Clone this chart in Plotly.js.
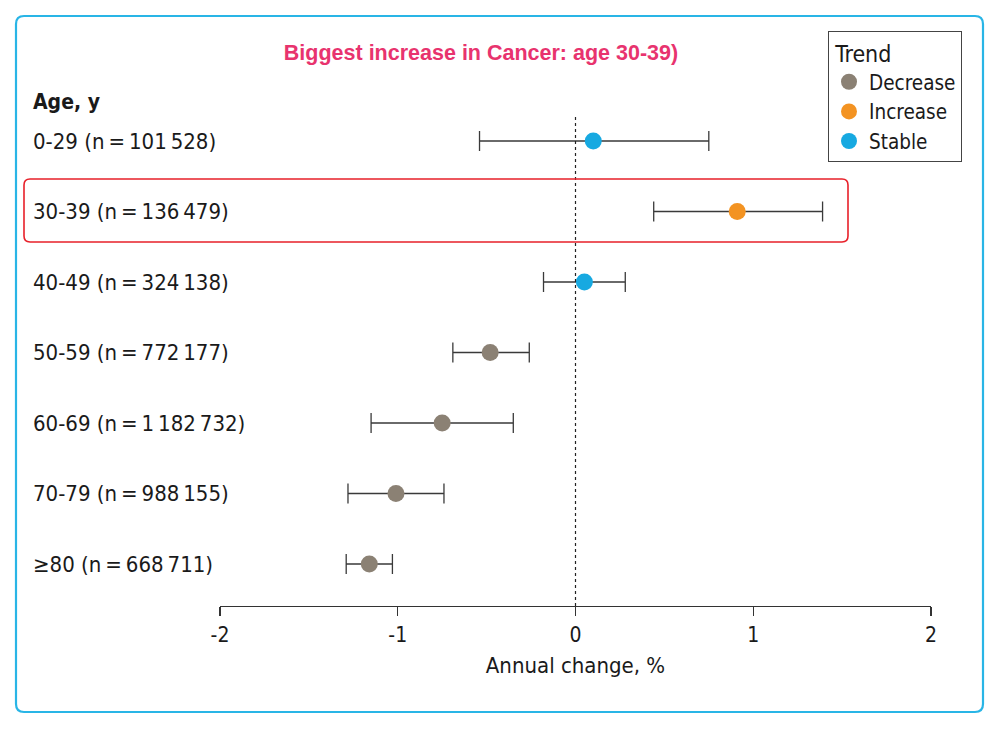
<!DOCTYPE html>
<html>
<head>
<meta charset="utf-8">
<script src="https://cdn.plot.ly/plotly-3.0.1.min.js"></script>
<style>html,body{margin:0;padding:0;background:#fff;}#chart{width:999px;height:729px;}</style>
</head>
<body>
<div id="chart"></div>
<script>
// ---- data ----
const ageGroups = ["0-29", "30-39", "40-49", "50-59", "60-69", "70-79", "\u226580"];
const sampleSizes = ["101\u2009528", "136\u2009479", "324\u2009138", "772\u2009177", "1\u2009182\u2009732", "988\u2009155", "668\u2009711"];
const estimate = [0.10, 0.91, 0.05, -0.48, -0.75, -1.01, -1.16];
const ciLow   = [-0.54, 0.44, -0.18, -0.69, -1.15, -1.28, -1.29];
const ciHigh  = [0.75, 1.39, 0.28, -0.26, -0.35, -0.74, -1.03];
const trend   = ["Stable", "Increase", "Stable", "Decrease", "Decrease", "Decrease", "Decrease"];
const trendOrder = ["Decrease", "Increase", "Stable"];
const trendColors = {Decrease: "#8b8174", Increase: "#f39322", Stable: "#17a9e1"};
const xTicks = [-2, -1, 0, 1, 2];
const xTickText = ["-2", "-1", "0", "1", "2"];
const highlightGroup = "30-39";

const FONT = "'Liberation Sans Narrow', 'DejaVu Sans Condensed', 'Open Sans', sans-serif";

// pixel -> paper helpers (layout only)
const L = 220, R = 931, T = 100, B = 606;
const px = v => (v - L) / (R - L);
const py = v => (B - v) / (B - T);

function roundRect(x0, y0, x1, y1, r) {
  const a = px(x0), b = px(x1), c = py(y0), d = py(y1);
  const rx = r / (R - L), ry = r / (B - T);
  return `M${a + rx},${c} L${b - rx},${c} Q${b},${c} ${b},${c - ry} L${b},${d + ry} Q${b},${d} ${b - rx},${d} L${a + rx},${d} Q${a},${d} ${a},${d + ry} L${a},${c - ry} Q${a},${c} ${a + rx},${c} Z`;
}

const idx = ageGroups.map((_, i) => i);
const traces = trendOrder.map(t => {
  const ii = idx.filter(i => trend[i] === t);
  return {
    type: "scatter", mode: "markers", name: t,
    x: ii.map(i => estimate[i]),
    y: ii.map(i => i),
    marker: {color: trendColors[t], size: 17},
    error_x: {
      type: "data", symmetric: false,
      array: ii.map(i => ciHigh[i] - estimate[i]),
      arrayminus: ii.map(i => estimate[i] - ciLow[i]),
      color: "#3a3a3a", thickness: 1.3, width: 10
    },
    hoverinfo: "skip"
  };
});

const annotations = ageGroups.map((g, i) => ({
  xref: "paper", yref: "y", x: px(31), y: i, xanchor: "left", yanchor: "middle",
  text: `${g} (n\u2009=\u2009${sampleSizes[i]})`, showarrow: false,
  font: {family: FONT, size: 22, color: "#1a1a1a"}
}));
annotations.push({
  xref: "paper", yref: "paper", x: px(31), y: py(102), xanchor: "left", yanchor: "middle",
  text: "<b>Age, y</b>", showarrow: false, font: {family: FONT, size: 21, color: "#1a1a1a"}
});

const layout = {
  width: 999, height: 729,
  margin: {l: L, r: 999 - R, t: T, b: 729 - B},
  paper_bgcolor: "#fff", plot_bgcolor: "#fff",
  title: {
    text: "<b>Biggest increase in Cancer: age 30-39)</b>",
    x: 481 / 999, xanchor: "center", xref: "container",
    y: 1 - 52 / 729, yanchor: "middle", yref: "container",
    font: {family: "'Liberation Sans', Arial, sans-serif", size: 21.5, color: "#e8336e"}
  },
  xaxis: {
    range: [-2, 2], tickvals: xTicks, ticktext: xTickText,
    showgrid: false, zeroline: false, showline: true, linecolor: "#333", linewidth: 1.3,
    ticks: "outside", ticklen: 9, tickwidth: 1.3, tickcolor: "#333",
    tickfont: {family: FONT, size: 21, color: "#1a1a1a"},
    title: {text: "Annual change, %", font: {family: FONT, size: 22, color: "#1a1a1a"}, standoff: 12},
    fixedrange: true
  },
  yaxis: {
    range: [(B - 141) / 70.5, (T - 141) / 70.5],
    showgrid: false, zeroline: false, showline: false, showticklabels: false, ticks: "",
    fixedrange: true
  },
  legend: {
    x: px(828), y: py(31), xanchor: "left", yanchor: "top",
    bordercolor: "#444", borderwidth: 1, bgcolor: "#fff",
    title: {text: "\u2009Trend", font: {family: FONT, size: 23, color: "#1a1a1a"}},
    font: {family: FONT, size: 20.5, color: "#1a1a1a"},
    itemwidth: 30, tracegroupgap: 0
  },
  shapes: [
    {type: "line", xref: "x", yref: "paper", x0: 0, x1: 0, y0: 0, y1: py(115),
     line: {color: "#222", width: 1.2, dash: "dot"}},
    {type: "path", xref: "paper", yref: "paper", path: roundRect(24, 179, 848, 242, 6),
     line: {color: "#e8202a", width: 1.6}},
    {type: "path", xref: "paper", yref: "paper", path: roundRect(16, 16, 983, 712, 8),
     line: {color: "#29b5e6", width: 2.2}}
  ],
  annotations: annotations,
  showlegend: true
};

Plotly.newPlot("chart", traces, layout, {displayModeBar: false, staticPlot: true});
</script>
</body>
</html>
